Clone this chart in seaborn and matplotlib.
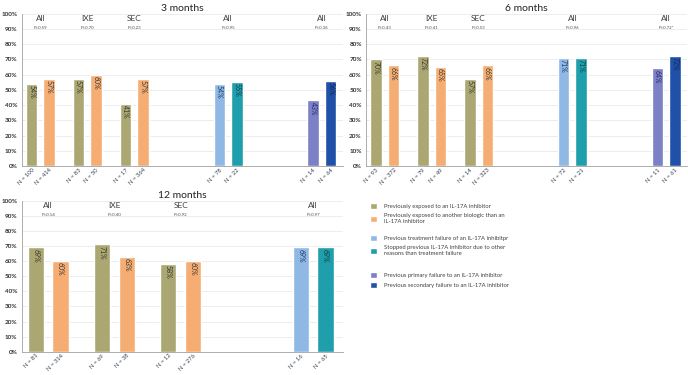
import numpy as np
import pandas as pd
import seaborn as sns
import matplotlib.pyplot as plt
from matplotlib.patches import Patch
from matplotlib.ticker import PercentFormatter

sns.set_style('white')
plt.rcParams['font.family'] = ['Lato', 'DejaVu Sans']

# grupy pacjentow (kolejnosc = legenda)
categories = ['Previously exposed to an IL-17A inhibitor',
              'Previously exposed to another biologic than an\nIL-17A inhibitor',
              'Previous treatment failure of an IL-17A inhibitpr',
              'Stopped previous IL-17A inhibitor due to other\nreasons than treatment failure',
              'Previous primary failure to an IL-17A inhibitor',
              'Previous secondary failure to an IL-17A inhibitor']
colors = ['#ABA772', '#F5AD74', '#8FB9E4', '#1E9FAB', '#7C80C5', '#2050A8']
text_colors = ['#3A3A30', '#3A3A30', '#1F3864', '#123F48', '#2A2F6A', '#0F2A60']

# 3 miesiace
m3_slot = [0, 0, 1, 1, 2, 2, 4, 4, 6, 6]
m3_cat = [0, 1, 0, 1, 0, 1, 2, 3, 4, 5]
m3_values = [54, 57, 57, 60, 41, 57, 54, 55, 43, 56]
m3_n = [100, 414, 83, 50, 17, 364, 78, 22, 14, 64]
m3_groups = ['All', 'IXE', 'SEC', 'All', 'All']
m3_p = ['P=0.59', 'P=0.70', 'P=0.23', 'P=0.95', 'P=0.36']

# 6 miesiecy
m6_slot = [0, 0, 1, 1, 2, 2, 4, 4, 6, 6]
m6_cat = [0, 1, 0, 1, 0, 1, 2, 3, 4, 5]
m6_values = [70, 66, 72, 65, 57, 66, 71, 71, 64, 72]
m6_n = [93, 372, 79, 49, 14, 323, 72, 21, 11, 61]
m6_groups = ['All', 'IXE', 'SEC', 'All', 'All']
m6_p = ['P=0.43', 'P=0.41', 'P=0.53', 'P=0.96', 'P=0.72*']

# 12 miesiecy
m12_slot = [0, 0, 1, 1, 2, 2, 4, 4]
m12_cat = [0, 1, 0, 1, 0, 1, 2, 3]
m12_values = [69, 60, 71, 63, 58, 60, 69, 69]
m12_n = [81, 314, 69, 38, 12, 276, 16, 65]
m12_groups = ['All', 'IXE', 'SEC', 'All']
m12_p = ['P=0.14', 'P=0.40', 'P=0.92', 'P=0.97']


def panel(ax, title, slots, cats, values, ns, groups, pvals):
    x = [s + (-0.187 if c % 2 == 0 else 0.187) for s, c in zip(slots, cats)]
    df = pd.DataFrame({'x': x, 'value': np.array(values) / 100,
                       'cat': [categories[c] for c in cats]})
    sns.barplot(data=df, x='x', y='value', hue='cat', hue_order=categories,
                palette=dict(zip(categories, colors)), native_scale=True,
                dodge=False, width=0.655, errorbar=None, saturation=1,
                legend=False, ax=ax)
    for xi, v, c in zip(x, values, cats):
        ax.text(xi, v / 100 - 0.008, f'{v}%', rotation=-90, ha='center',
                va='top', fontsize=5, color=text_colors[c])
    for s, g, p in zip(sorted(set(slots)), groups, pvals):
        ax.text(s, 0.97, g, ha='center', va='center', fontsize=6,
                color='#404040')
        ax.text(s, 0.905, p, ha='center', va='center', fontsize=3.2,
                color='#505050')
    ax.set_xticks(x)
    ax.set_xticklabels([f'N = {n}' for n in ns], rotation=45, ha='right',
                       rotation_mode='anchor', fontsize=4.2, color='#333F50')
    ax.set_xlim(-0.4, max(slots) + 0.45)
    ax.set_ylim(0, 1)
    ax.set_yticks(np.arange(0, 1.01, 0.1))
    ax.yaxis.set_major_formatter(PercentFormatter(1, decimals=0))
    ax.tick_params(axis='y', labelsize=4.6, length=2, width=0.5,
                   colors='#303030', pad=1)
    ax.tick_params(axis='x', length=0, pad=1)
    for lab in ax.get_yticklabels():
        lab.set_fontweight('bold')
    ax.grid(axis='y', color='#E6E6E6', linewidth=0.5)
    ax.set_axisbelow(True)
    for sp in ['top', 'right']:
        ax.spines[sp].set_visible(False)
    for sp in ['left', 'bottom']:
        ax.spines[sp].set_color('#A0A0A0')
        ax.spines[sp].set_linewidth(0.6)
    ax.set_xlabel('')
    ax.set_ylabel('')
    ax.set_title(title, fontsize=7.5, pad=2, color='#222222')


fig = plt.figure(figsize=(6.88, 3.75), dpi=100, facecolor='white')
ax1 = fig.add_axes([0.0315, 0.557, 0.467, 0.407])
ax2 = fig.add_axes([0.532, 0.557, 0.467, 0.407])
ax3 = fig.add_axes([0.0315, 0.062, 0.467, 0.403])

panel(ax1, '3 months', m3_slot, m3_cat, m3_values, m3_n, m3_groups, m3_p)
panel(ax2, '6 months', m6_slot, m6_cat, m6_values, m6_n, m6_groups, m6_p)
panel(ax3, '12 months', m12_slot, m12_cat, m12_values, m12_n, m12_groups, m12_p)

# legenda w trzech blokach
tops = [203, 235, 272]
for i, top in enumerate(tops):
    handles = [Patch(facecolor=colors[k], label=categories[k])
               for k in (2 * i, 2 * i + 1)]
    fig.legend(handles=handles, loc='upper left',
               bbox_to_anchor=(0.538, 1 - top / 375), frameon=False,
               fontsize=4.2, handlelength=1.1, handleheight=1.1,
               handletextpad=1.2, labelspacing=0.8, borderpad=0,
               borderaxespad=0, labelcolor='#404040')

plt.savefig('out.png', dpi=100, facecolor='white')
